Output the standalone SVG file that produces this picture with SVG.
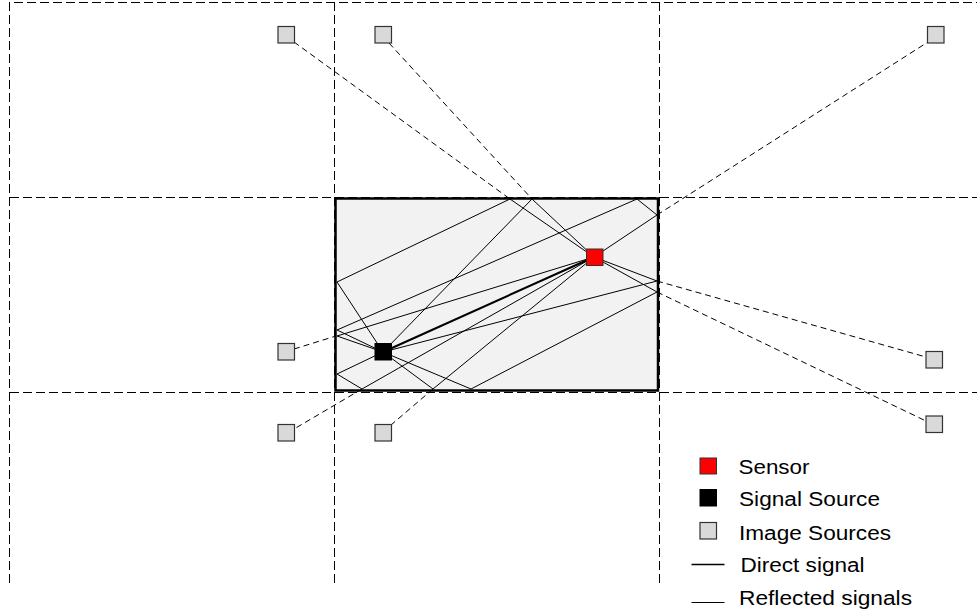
<svg xmlns="http://www.w3.org/2000/svg" width="977" height="614" viewBox="0 0 977 614">
  <style>
    .grid { stroke: #000; stroke-width: 1; stroke-dasharray: 9 4; fill: none; }
    .room { fill: #f2f2f2; stroke: #000; stroke-width: 2.5; }
    .ray { stroke: #000; stroke-width: 1; fill: none; stroke-linejoin: miter; }
    .direct { stroke: #000; stroke-width: 2; fill: none; }
    .virtual { stroke: #000; stroke-width: 1; stroke-dasharray: 6 4; fill: none; }
    .img { fill: #d9d9d9; stroke: #333; stroke-width: 1.2; }
    .sensor { fill: #ff0000; stroke: #333; stroke-width: 1; }
    .source { fill: #000; stroke: #000; stroke-width: 1; }
    .label { font-family: "Liberation Sans", Arial, sans-serif; font-size: 20px; fill: #000; }
  </style>

  <!-- tiling of mirrored rooms -->
  <g id="grid">
    <line class="grid" x1="9.5" y1="2" x2="9.5" y2="583"/>
    <line class="grid" x1="334.5" y1="2" x2="334.5" y2="583"/>
    <line class="grid" x1="659.5" y1="2" x2="659.5" y2="583"/>
    <line class="grid" x1="14" y1="2.5" x2="977" y2="2.5"/>
    <line class="grid" x1="10" y1="197.5" x2="977" y2="197.5"/>
    <line class="grid" x1="10" y1="392.5" x2="977" y2="392.5"/>
  </g>

  <!-- the real room -->
  <g id="room">
    <rect class="room" x="335.5" y="198.5" width="322.5" height="192"/>
  </g>

  <g id="connectors">
    <!-- reflected paths inside the room -->
    <polyline class="ray" points="383,352 337,336 594,257"/>
    <polyline class="ray" points="383,352 532,199 594,257"/>
    <polyline class="ray" points="383,352 337,282 510,199 594,257"/>
    <polyline class="ray" points="383,352 337,330 637,199 657,215 594,257"/>
    <polyline class="ray" points="383,352 657,281 594,257"/>
    <polyline class="ray" points="383,352 471,389 657,292 594,257"/>
    <polyline class="ray" points="383,352 433,389 594,257"/>
    <polyline class="ray" points="383,352 337,374 362,389 594,257"/>
    <!-- direct path -->
    <line class="direct" x1="383" y1="352" x2="594" y2="257"/>
    <!-- virtual extensions towards the image sources -->
    <line class="virtual" x1="294" y1="349" x2="336" y2="336"/>
    <line class="virtual" x1="389" y1="43" x2="532" y2="199"/>
    <line class="virtual" x1="294" y1="42" x2="510" y2="199"/>
    <line class="virtual" x1="657" y1="215" x2="928" y2="42"/>
    <line class="virtual" x1="657" y1="281" x2="926" y2="357"/>
    <line class="virtual" x1="657" y1="292" x2="926" y2="421"/>
    <line class="virtual" x1="433" y1="389" x2="391" y2="425"/>
    <line class="virtual" x1="362" y1="389" x2="294" y2="429"/>
  </g>

  <!-- image sources -->
  <g id="image-top-left"><rect class="img" x="278" y="26.5" width="16.5" height="16.5"/></g>
  <g id="image-top"><rect class="img" x="375" y="26.5" width="16.5" height="16.5"/></g>
  <g id="image-top-right"><rect class="img" x="927.5" y="26.5" width="16.5" height="16.5"/></g>
  <g id="image-left"><rect class="img" x="278" y="343.5" width="16.5" height="16.5"/></g>
  <g id="image-right"><rect class="img" x="926" y="351.5" width="16.5" height="16.5"/></g>
  <g id="image-bottom-left"><rect class="img" x="278" y="424.5" width="16.5" height="16.5"/></g>
  <g id="image-bottom"><rect class="img" x="375" y="424.5" width="16.5" height="16.5"/></g>
  <g id="image-bottom-right"><rect class="img" x="926" y="416" width="16.5" height="16.5"/></g>

  <!-- sensor and signal source -->
  <g id="sensor"><rect class="sensor" x="586.5" y="249" width="16.5" height="16.5"/></g>
  <g id="source"><rect class="source" x="375" y="343.5" width="16.5" height="16.5"/></g>

  <!-- legend -->
  <g id="legend">
    <rect class="sensor" x="700" y="458" width="16.5" height="16"/>
    <text class="label" x="738.5" y="474" textLength="71" lengthAdjust="spacingAndGlyphs">Sensor</text>
    <rect class="source" x="700" y="489.5" width="16.5" height="16.5"/>
    <text class="label" x="739" y="505.5" textLength="141" lengthAdjust="spacingAndGlyphs">Signal Source</text>
    <rect class="img" x="700" y="522.5" width="16.5" height="16.5"/>
    <text class="label" x="739" y="539.5" textLength="152" lengthAdjust="spacingAndGlyphs">Image Sources</text>
    <line class="direct" x1="691.5" y1="564.5" x2="724.5" y2="564.5" style="stroke-width:1.5"/>
    <text class="label" x="740.5" y="572" textLength="124" lengthAdjust="spacingAndGlyphs">Direct signal</text>
    <line class="ray" x1="691.5" y1="602.5" x2="724.5" y2="602.5"/>
    <text class="label" x="739" y="605" textLength="173" lengthAdjust="spacingAndGlyphs">Reflected signals</text>
  </g>
</svg>
